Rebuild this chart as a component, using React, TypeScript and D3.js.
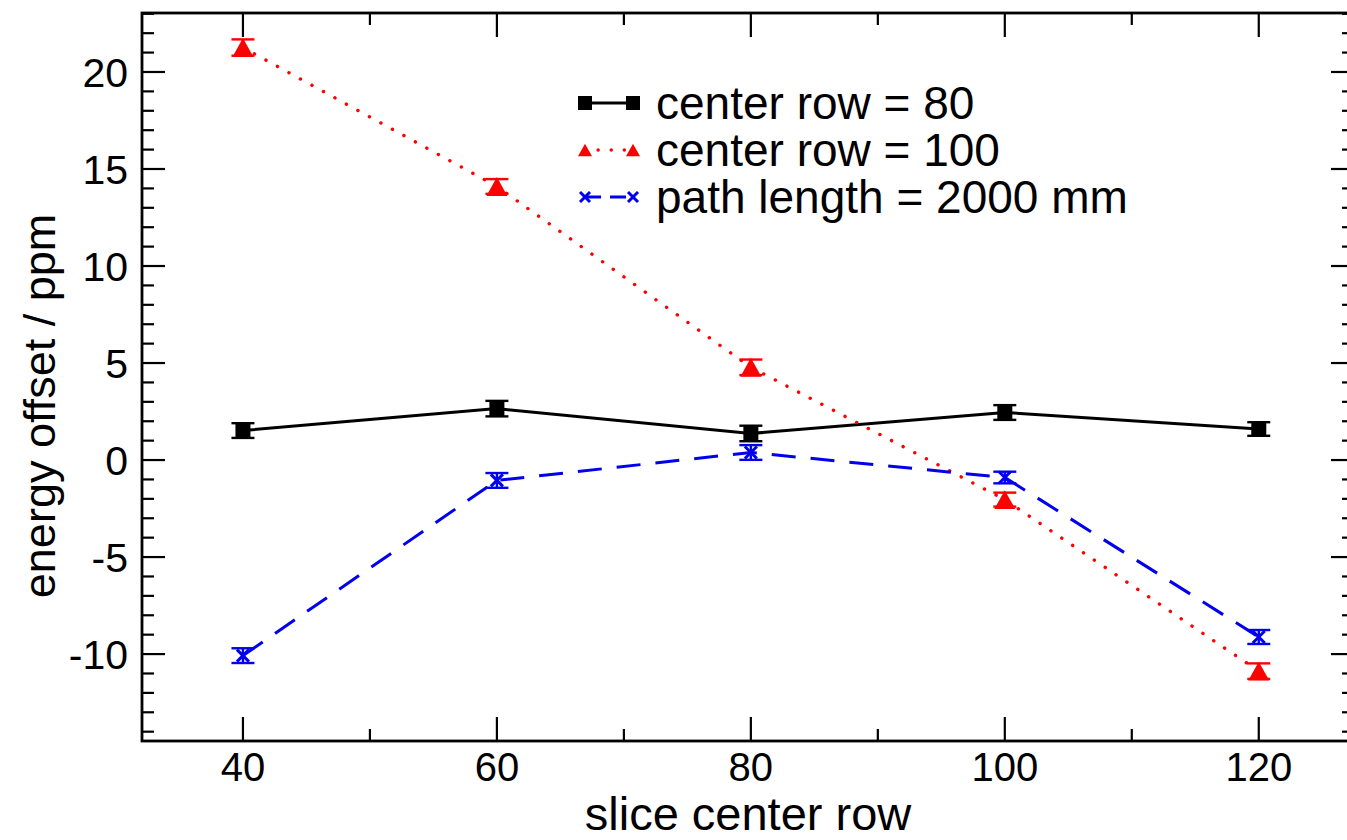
import React from "react";
import * as d3 from "d3";

const xValues = [40, 60, 80, 100, 120];
const row80 = [1.52, 2.65, 1.37, 2.45, 1.6];
const row80Err = [0.38, 0.4, 0.4, 0.38, 0.35];
const row100 = [21.26, 14.1, 4.78, -2.04, -10.88];
const row100Err = [0.42, 0.38, 0.4, 0.36, 0.4];
const path2000 = [-10.08, -1.05, 0.39, -0.9, -9.12];
const path2000Err = [0.38, 0.38, 0.38, 0.3, 0.36];
const xMajorTicks = [40, 60, 80, 100, 120];
const xMinorTicks = [50, 70, 90, 110];
const yMajorTicks = [-10, -5, 0, 5, 10, 15, 20];
const legendLabels = ["center row = 80", "center row = 100", "path length = 2000 mm"];

const W = 1347, H = 840;
const left = 142, right = 1354, top = 13, bottom = 741;
const FONT = "'Liberation Sans', Arial, Helvetica, sans-serif";

export default function App() {
  const x = d3.scaleLinear().domain([32.05, 127.5]).range([left, right]);
  const y = d3.scaleLinear().domain([-14.48, 23.04]).range([bottom, top]);
  const yMinor = d3.range(-14, 24, 1).filter((v) => v % 5 !== 0);
  const line = d3.line<[number, number]>().x((d) => x(d[0])).y((d) => y(d[1]));

  const series = [
    { vals: row80, errs: row80Err, color: "#000", dash: undefined as string | undefined, cap: "butt", marker: "square", width: 3 },
    { vals: row100, errs: row100Err, color: "#ff0000", dash: "0.1 13", cap: "round", marker: "triangle", width: 3.4 },
    { vals: path2000, errs: path2000Err, color: "#0000ee", dash: "24 15", cap: "butt", marker: "x", width: 3 },
  ];

  const marker = (type: string, cx: number, cy: number, color: string, s: number, key: string) => {
    if (type === "square") {
      return <rect key={key} x={cx - s / 2} y={cy - s / 2} width={s} height={s} fill={color} />;
    }
    if (type === "triangle") {
      const h = s * 0.9;
      return (
        <polygon key={key} fill={color}
          points={`${cx - s / 2},${cy + h / 2} ${cx + s / 2},${cy + h / 2} ${cx},${cy - h / 2}`} />
      );
    }
    const r = s / 2;
    return (
      <g key={key} stroke={color} strokeWidth={3}>
        <line x1={cx - r} y1={cy - r} x2={cx + r} y2={cy + r} />
        <line x1={cx - r} y1={cy + r} x2={cx + r} y2={cy - r} />
      </g>
    );
  };

  const markerSize: Record<string, number> = { square: 15, triangle: 21, x: 12 };

  return (
    <svg width={W} height={H} style={{ position: "absolute", left: 0, top: 0, background: "#fff" }}
      fontFamily={FONT}>
      <rect x={0} y={0} width={W} height={H} fill="#fff" />
      {series.map((s, i) => (
        <path key={"l" + i}
          d={line(xValues.map((v, j) => [v, s.vals[j]]) as [number, number][]) || ""}
          fill="none" stroke={s.color} strokeWidth={s.width} strokeDasharray={s.dash}
          strokeLinecap={s.cap as any} />
      ))}
      {series.map((s, i) => (
        <g key={"m" + i}>
          {xValues.map((v, j) => {
            const cx = x(v);
            const y1 = y(s.vals[j] + s.errs[j]);
            const y2 = y(s.vals[j] - s.errs[j]);
            return (
              <g key={j} stroke={s.color} strokeWidth={2.4}>
                <line x1={cx} x2={cx} y1={y1} y2={y2} />
                <line x1={cx - 11.5} x2={cx + 11.5} y1={y1} y2={y1} />
                <line x1={cx - 11.5} x2={cx + 11.5} y1={y2} y2={y2} />
              </g>
            );
          })}
          {xValues.map((v, j) => marker(s.marker, x(v), y(s.vals[j]), s.color, markerSize[s.marker], `${i}-${j}`))}
        </g>
      ))}
      <rect x={left} y={top} width={right - left} height={bottom - top} fill="none" stroke="#000" strokeWidth={2.8} />
      {xMajorTicks.map((t) => (
        <g key={"xt" + t} stroke="#000" strokeWidth={2.2}>
          <line x1={x(t)} x2={x(t)} y1={bottom} y2={bottom - 24} />
          <line x1={x(t)} x2={x(t)} y1={top} y2={top + 24} />
        </g>
      ))}
      {xMinorTicks.map((t) => (
        <g key={"xm" + t} stroke="#000" strokeWidth={2.2}>
          <line x1={x(t)} x2={x(t)} y1={bottom} y2={bottom - 12} />
          <line x1={x(t)} x2={x(t)} y1={top} y2={top + 12} />
        </g>
      ))}
      {xMajorTicks.map((t) => (
        <text key={"xl" + t} x={x(t)} y={781} textAnchor="middle" fontSize={40} fill="#000">{t}</text>
      ))}
      {yMajorTicks.map((t) => (
        <g key={"yt" + t} stroke="#000" strokeWidth={2.2}>
          <line x1={left} x2={left + 23} y1={y(t)} y2={y(t)} />
          <line x1={right} x2={right - 23} y1={y(t)} y2={y(t)} />
        </g>
      ))}
      {yMinor.map((t) => (
        <g key={"ym" + t} stroke="#000" strokeWidth={2.2}>
          <line x1={left} x2={left + 12} y1={y(t)} y2={y(t)} />
          <line x1={right} x2={right - 12} y1={y(t)} y2={y(t)} />
        </g>
      ))}
      {yMajorTicks.map((t) => (
        <text key={"yl" + t} x={128} y={y(t) + 15} textAnchor="end" fontSize={41} fill="#000">{t}</text>
      ))}
      <text x={748} y={830} textAnchor="middle" fontSize={47} fill="#000">slice center row</text>
      <text transform={`translate(55,${(215 + 597) / 2}) rotate(-90)`} textAnchor="middle" fontSize={45} fill="#000">
        energy offset / ppm
      </text>
      {series.map((s, i) => {
        const ly = 103 + i * 47;
        return (
          <g key={"lg" + i}>
            <line x1={585} x2={633} y1={ly} y2={ly} stroke={s.color} strokeWidth={s.width}
              strokeDasharray={s.dash === "24 15" ? "16 9" : s.dash} strokeLinecap={s.cap as any} />
            {marker(s.marker, 585, ly, s.color, s.marker === "x" ? 10 : 14, "a" + i)}
            {marker(s.marker, 633, ly, s.color, s.marker === "x" ? 10 : 14, "b" + i)}
            <text x={656} y={ly + 16} fontSize={46} fill="#000">{legendLabels[i]}</text>
          </g>
        );
      })}
    </svg>
  );
}
